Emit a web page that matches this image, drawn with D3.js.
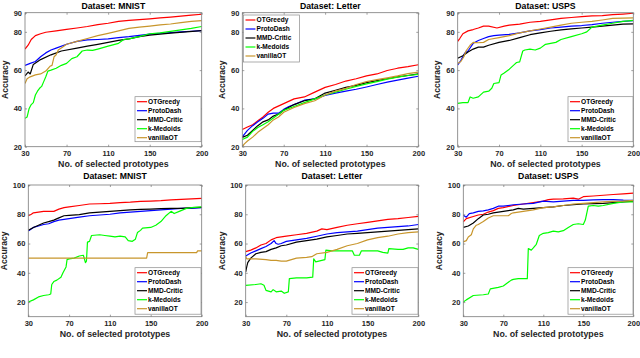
<!DOCTYPE html>
<html>
<head>
<meta charset="utf-8">
<script src="https://cdn.jsdelivr.net/npm/d3@7"></script>
<style>
body{margin:0;background:#fff}
svg{display:block;font-family:"Liberation Sans",Arial,sans-serif}
</style>
</head>
<body>
<div id="chart"></div>
<script>
var seriesNames=["OTGreedy","ProtoDash","MMD-Critic","k-Medoids","vanillaOT"];
var seriesColors=["#ff0000","#0000ff","#000000","#00ff00","#c8962c"];
var xTicks=[30,70,110,150,200];
var yTicksTop=[20,40,60,80,90];
var yTicksBottom=[20,40,60,80,100];

// ---- top row, MNIST
var mnistA_ot=[[30,71],[33,73],[36,76],[40,78],[45,79],[50,79.8],[60,80.5],[70,81.3],[80,82],[90,82.8],[100,83.8],[110,84.5],[120,85.5],[130,86],[140,86.4],[150,86.8],[160,87.3],[170,87.7],[180,88.2],[190,88.7],[200,89.2]];
var mnistA_pd=[[30,62.5],[35,63.5],[40,64.5],[45,67],[50,69],[55,70.5],[60,71.5],[70,73.5],[80,75],[90,75.8],[100,76],[110,76.3],[120,77],[130,77.5],[140,78.2],[150,78.8],[160,79.2],[170,79.6],[180,80],[190,80.3],[200,80.6]];
var mnistA_mmd=[[30,57],[33,59],[35,58],[38,63],[45,65.5],[55,68],[65,70],[80,71.5],[90,72.5],[100,73.5],[110,74.5],[120,75.5],[130,76.3],[140,77.5],[150,78.3],[170,79.3],[200,80.6]];
var mnistA_km=[[30,34.8],[32,35.5],[34,40],[36,42],[38,43],[40,47],[42,49],[44,50.5],[46,51.5],[48,54],[50,56.5],[52,59.5],[55,60],[60,61],[65,62.5],[70,63.5],[75,66],[80,67],[85,70],[90,70.5],[95,70.3],[100,71],[110,72.5],[120,74],[125,76],[130,76.3],[140,77.5],[150,79],[160,79.5],[170,80.2],[180,81],[190,81.8],[200,82.8]];
var mnistA_van=[[30,53],[32,55.5],[35,56.5],[40,57.5],[45,58],[50,59.5],[54,62],[56,62.5],[58,67],[60,68],[62,70.5],[66,72],[70,73.5],[80,75],[90,76.5],[100,78],[110,79.2],[120,80.5],[130,81.8],[140,82.5],[150,83],[160,83.6],[170,84.1],[180,84.8],[190,85.5],[200,85.9]];

// ---- top row, Letter
var letterA_ot=[[30,29],[35,30.3],[40,31.5],[45,33.5],[50,35.5],[55,38],[60,40],[70,42.5],[80,45],[90,46],[100,48.5],[110,51],[120,52.5],[130,54.3],[140,55.5],[150,57],[160,58],[170,59.8],[180,61],[190,61.8],[200,62.8]];
var letterA_pd=[[30,25.2],[35,28.5],[40,31],[45,33],[50,34.8],[55,37],[60,37.5],[65,37.5],[70,39.5],[75,41],[80,42],[90,44.3],[100,45],[110,46.8],[120,48],[130,49],[140,50],[150,51.2],[160,52.5],[170,53.7],[180,54.8],[190,55.8],[200,56.8]];
var letterA_mmd=[[30,24.9],[35,26],[40,28.5],[45,31],[50,33],[55,34],[60,36],[65,37],[70,39],[80,42],[90,44],[100,45],[110,48],[120,49.5],[130,51],[140,52],[150,53.5],[160,54.5],[170,55.5],[180,56.5],[190,57.2],[200,58]];
var letterA_km=[[30,23.8],[35,25],[40,28],[45,30],[50,31.5],[55,33],[60,35],[65,37],[70,39],[80,41],[90,43],[100,45],[110,47],[120,48.5],[130,50],[140,51.5],[150,52.8],[160,54],[170,55.3],[180,56.3],[190,57.2],[200,57.8]];
var letterA_van=[[30,20],[32,21.5],[35,23],[40,25],[45,27.5],[50,29.5],[55,31.5],[60,34],[65,35.5],[70,38],[80,40.5],[90,42.5],[100,44],[110,47],[120,49],[130,50.5],[140,52.5],[150,54],[160,55],[170,56],[180,57],[190,58.2],[200,59]];

// ---- top row, USPS
var uspsA_ot=[[30,75],[32,76.5],[35,79],[40,80.5],[45,81.2],[50,82],[55,83],[60,83],[68,82],[75,83],[80,83.5],[90,84],[100,85],[110,85.5],[120,86.3],[130,87],[140,87.5],[150,88],[160,88.3],[170,88.5],[180,89],[190,89.3],[200,89.7]];
var uspsA_pd=[[30,62.7],[33,65],[37,69],[40,70],[45,74],[50,75.5],[55,76.5],[60,77.5],[65,78],[70,78.3],[80,78.7],[90,79.5],[100,80.5],[110,81.2],[120,82],[130,82.5],[140,83],[150,83.3],[160,83.8],[170,84.5],[180,85],[190,85.5],[200,85.8]];
var uspsA_mmd=[[30,66.2],[35,67.5],[40,69.5],[45,71],[50,72],[55,72],[60,73],[70,74.5],[80,75.5],[90,77],[100,78.5],[110,79.5],[120,80.3],[130,81],[140,81.5],[150,82],[160,82.5],[170,83],[180,83.5],[190,84],[200,84.2]];
var uspsA_km=[[30,42.6],[35,43],[40,43],[42,46],[45,45.3],[50,46],[55,48.5],[60,49],[63,50.5],[65,53],[70,53.5],[72,57.5],[75,58.5],[80,60.5],[85,63],[87,64],[90,64.3],[93,70],[95,70.5],[100,71],[105,70.5],[110,71.5],[115,73.5],[120,74],[125,74.5],[130,76],[140,77.5],[150,79],[155,80],[160,82.5],[170,83.5],[180,84.5],[190,85.5],[200,86]];
var uspsA_van=[[30,63.5],[33,64.5],[36,67],[38,70],[42,73],[45,74.5],[50,74.3],[55,74.5],[60,76],[70,77],[80,78],[90,79.5],[100,80.5],[110,81.5],[120,82.5],[130,83.5],[140,84.5],[150,85],[160,85.5],[170,86.2],[180,87],[190,87.2],[200,87.3]];

// ---- bottom row, MNIST
var mnistB_ot=[[30,79],[33,80],[35,81],[40,81.5],[45,82],[55,82],[60,83.5],[65,84.5],[70,85],[80,86],[90,87],[100,87.2],[110,87.5],[120,88],[130,88.3],[140,88.8],[150,89],[160,89.3],[170,89.8],[180,90.2],[190,90.5],[200,90.8]];
var mnistB_pd=[[30,68.5],[35,71],[40,72],[45,73],[50,73.5],[55,75],[60,76],[70,77],[80,78],[90,79],[100,79.5],[110,80],[120,81],[130,81.5],[140,82],[150,82.5],[160,83],[170,83.5],[180,84],[190,84],[200,84.5]];
var mnistB_mmd=[[30,69.1],[35,71],[40,72.5],[45,74],[50,75],[55,76],[60,77.5],[65,79],[70,79.3],[80,79.8],[90,81],[100,81.5],[110,82],[120,82.5],[130,83],[140,83.3],[150,83.5],[160,83.8],[170,84],[180,84],[190,84.5],[200,84.7]];
var mnistB_km=[[30,20],[35,21.5],[40,23.5],[45,24.5],[50,25],[52,25.5],[53,32],[55,34],[58,35],[62,37],[64,40],[67,44],[68,49],[70,49.5],[75,50],[80,51.5],[84,52],[86,47],[87,48],[88,61],[90,61.5],[92,65.5],[100,66],[105,65.5],[110,65],[115,64.5],[120,65],[125,64.5],[128,62],[132,61.5],[135,63],[137,67.5],[140,69],[142,70.5],[150,71],[155,72.5],[160,75],[165,79],[170,82],[173,80.5],[178,82],[185,84],[190,84.5],[200,85]];
var mnistB_van=[[30,50],[146,50],[147,53.8],[195,53.8],[196,55],[200,55]];

// ---- bottom row, Letter
var letterB_ot=[[30,54.5],[35,55.5],[40,57],[45,59],[50,60],[55,62.5],[60,64],[70,65],[80,66],[90,67],[100,68.5],[105,70],[110,69.5],[120,71],[130,72.5],[140,73.5],[150,74.5],[160,75.5],[170,76.5],[180,77],[190,77.8],[200,78.5]];
var letterB_pd=[[30,51.5],[35,53.5],[40,55],[45,56.5],[50,58],[55,60],[58,62],[60,60],[62,59.5],[65,60],[70,61.5],[80,62.5],[90,63.5],[100,65],[110,66.5],[120,67.5],[130,68],[140,68.5],[150,69.5],[160,70.5],[170,71],[180,71.5],[190,72],[200,73]];
var letterB_mmd=[[30,40.6],[31,44],[32,47],[35,50],[40,53],[45,54],[50,54.5],[55,56],[60,57],[65,58.5],[70,59],[80,61],[90,62],[100,63],[110,64.5],[120,65.5],[130,66.5],[140,67],[150,67.5],[160,68],[170,68.5],[180,69],[190,69.5],[200,70]];
var letterB_km=[[30,31.4],[40,32],[45,32.5],[48,31.5],[50,28],[55,27],[57,28.5],[60,27],[65,27.5],[68,26],[72,27],[73,36],[80,36.5],[90,36.5],[96,37],[97,49.5],[99,47.5],[105,48.5],[108,49],[109,55.5],[115,55],[125,55],[135,55],[137,52],[142,52],[144,55],[160,55],[165,54],[170,53.5],[171,56.5],[180,56],[185,56],[190,57],[195,57],[200,56]];
var letterB_van=[[30,51.3],[31,49.5],[40,49.5],[50,49],[55,48.5],[60,48.5],[65,48],[70,48],[75,49],[80,50],[90,50.5],[95,51],[100,53],[110,54],[120,56],[130,58.5],[140,60],[150,62.5],[160,64],[170,65],[180,66.5],[190,67.5],[200,68]];

// ---- bottom row, USPS
var uspsB_ot=[[30,74.9],[33,77],[40,78.5],[45,79.5],[50,80],[55,81.5],[60,82.5],[65,84],[70,84.5],[80,86],[90,87],[100,88],[110,89],[115,90],[120,90.3],[130,90.5],[140,91],[145,90.3],[150,92],[160,92.5],[170,93],[180,93.5],[190,94],[200,94.5]];
var uspsB_pd=[[30,79.4],[33,78],[36,80.5],[40,81],[45,82],[50,82.3],[55,83],[60,84],[65,85.5],[70,85.5],[80,86.5],[90,87],[100,87.5],[110,89],[120,88.5],[130,89],[140,89.5],[150,89.5],[160,89.8],[170,90],[180,90],[190,89.6],[200,89.5]];
var uspsB_mmd=[[30,71],[35,72],[40,74],[45,77],[50,79.5],[55,80],[60,81],[65,81.5],[70,82],[80,83],[85,84],[90,83.5],[100,84],[110,84.5],[120,85],[130,86],[140,86.5],[150,87],[160,87.3],[170,87.5],[180,88],[190,88.5],[200,89]];
var uspsB_km=[[30,20],[33,21.5],[40,24.5],[50,25],[55,25.5],[57,29],[65,30],[70,31],[73,32.5],[78,35],[80,35.5],[85,36],[94,36],[95,56.5],[98,55.5],[100,57],[103,59.5],[106,65.5],[110,67],[115,67.5],[120,68.5],[125,68],[130,68.8],[135,71],[140,73],[145,73.5],[150,73],[152,76],[155,85.5],[160,86],[165,85.5],[170,86],[180,87.5],[190,88.5],[200,88.5]];
var uspsB_van=[[30,61.1],[33,62],[35,64.5],[38,66],[40,70],[43,72.5],[45,73],[50,75],[55,77.5],[60,79],[75,79],[78,80.5],[80,81],[90,82],[100,83],[110,84.5],[120,85],[130,86],[140,87],[150,87.5],[160,88],[170,88.5],[180,88.8],[190,89],[200,89.5]];

var panels=[
  {title:"Dataset: MNIST",series:[mnistA_ot,mnistA_pd,mnistA_mmd,mnistA_km,mnistA_van],top:true,l:25,r:201.7,legend:[135,96.7,66,45]},
  {title:"Dataset: Letter",series:[letterA_ot,letterA_pd,letterA_mmd,letterA_km,letterA_van],top:true,l:242.3,r:418.3,legend:[243.5,15,56,47]},
  {title:"Dataset: USPS",series:[uspsA_ot,uspsA_pd,uspsA_mmd,uspsA_km,uspsA_van],top:true,l:457.7,r:633.3,legend:[568,96.7,65,45]},
  {title:"Dataset: MNIST",series:[mnistB_ot,mnistB_pd,mnistB_mmd,mnistB_km,mnistB_van],top:false,l:28.3,r:201.7,legend:[135,267.7,66,46.5]},
  {title:"Dataset: Letter",series:[letterB_ot,letterB_pd,letterB_mmd,letterB_km,letterB_van],top:false,l:245.7,r:418.3,legend:[352,267.7,66,46.5]},
  {title:"Dataset: USPS",series:[uspsB_ot,uspsB_pd,uspsB_mmd,uspsB_km,uspsB_van],top:false,l:463.3,r:633.3,legend:[568,267.7,65,46.5]}
];

var svg=d3.select("#chart").append("svg").attr("width",640).attr("height",358);

panels.forEach(function(p){
  var t=p.top?12.7:185, b=p.top?146.7:316.7;
  var x=d3.scaleLinear().domain([30,200]).range([p.l,p.r]);
  var y=d3.scaleLinear().domain(p.top?[20,90]:[10,100]).range([b,t]);
  var g=svg.append("g");

  var clipId="clip"+Math.round(p.l)+"_"+(p.top?1:2);
  g.append("clipPath").attr("id",clipId).append("rect")
    .attr("x",p.l).attr("y",t).attr("width",p.r-p.l).attr("height",b-t);

  var line=d3.line().x(function(d){return x(d[0]);}).y(function(d){return y(d[1]);});
  p.series.forEach(function(s,i){
    g.append("path").attr("d",line(s)).attr("clip-path","url(#"+clipId+")")
      .attr("fill","none").attr("stroke",seriesColors[i]).attr("stroke-width",1.2)
      .attr("stroke-linejoin","round");
  });

  // axes (ticks point inward, like matlab)
  g.append("g").attr("transform","translate(0,"+b+")")
    .call(d3.axisBottom(x).tickValues(xTicks).tickSizeInner(-2).tickSizeOuter(0).tickPadding(4));
  g.append("g").attr("transform","translate("+p.l+",0)")
    .call(d3.axisLeft(y).tickValues(p.top?yTicksTop:yTicksBottom).tickSizeInner(-2).tickSizeOuter(0).tickPadding(3));
  g.append("g").attr("transform","translate(0,"+t+")")
    .call(d3.axisTop(x).tickValues(xTicks).tickSizeInner(-2).tickSizeOuter(0).tickFormat(""));
  g.append("g").attr("transform","translate("+p.r+",0)")
    .call(d3.axisRight(y).tickValues(p.top?yTicksTop:yTicksBottom).tickSizeInner(-2).tickSizeOuter(0).tickFormat(""));
  g.selectAll(".domain").remove();
  g.selectAll(".tick line").attr("stroke","#777").attr("stroke-width",0.7);
  g.selectAll(".tick text").attr("font-size",7.5).attr("font-weight","bold").attr("fill","#262626")
    .attr("font-family","'Liberation Sans',Arial,sans-serif");

  g.append("rect").attr("x",p.l).attr("y",t).attr("width",p.r-p.l).attr("height",b-t)
    .attr("fill","none").attr("stroke","#7a7a7a").attr("stroke-width",0.8);

  g.append("text").attr("x",(p.l+p.r)/2).attr("y",p.top?8.5:178.5)
    .attr("text-anchor","middle").attr("font-size",8.7).attr("font-weight","bold")
    .attr("fill","#000").text(p.title);
  g.append("text").attr("x",(p.l+p.r)/2).attr("y",b+20)
    .attr("text-anchor","middle").attr("font-size",8.8).attr("font-weight","bold")
    .attr("fill","#262626").text("No. of selected prototypes");
  g.append("text").attr("transform","translate("+(p.l-(p.top?17.5:21))+","+((t+b)/2)+") rotate(-90)")
    .attr("text-anchor","middle").attr("font-size",8.6).attr("font-weight","bold")
    .attr("fill","#262626").text("Accuracy");

  // legend
  var L=p.legend;
  var lg=g.append("g").attr("transform","translate("+L[0]+","+L[1]+")");
  lg.append("rect").attr("width",L[2]).attr("height",L[3])
    .attr("fill","#fff").attr("stroke","#8a8a8a").attr("stroke-width",0.7);
  seriesNames.forEach(function(n,i){
    var yy=5+i*9;
    lg.append("line").attr("x1",2).attr("x2",12).attr("y1",yy).attr("y2",yy)
      .attr("stroke",seriesColors[i]).attr("stroke-width",1.2);
    lg.append("text").attr("x",13).attr("y",yy+2.4).attr("font-size",6.6)
      .attr("font-weight","bold").attr("fill","#000").text(n);
  });
});
</script>
</body>
</html>
